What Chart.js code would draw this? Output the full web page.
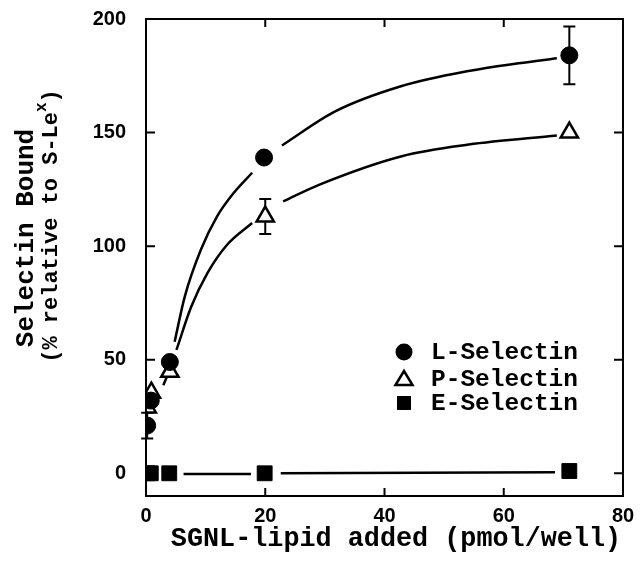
<!DOCTYPE html>
<html>
<head>
<meta charset="utf-8">
<script src="https://cdn.jsdelivr.net/npm/chart.js@4/dist/chart.umd.min.js"></script>
<style>
  html, body { margin: 0; padding: 0; background: #fff; }
  canvas { display: block; }
</style>
</head>
<body>
<canvas id="c" width="643" height="561"></canvas>
<script>
// ---- data ----
const xTicks = [0, 20, 40, 60, 80];
const yTicks = [0, 50, 100, 150, 200];

const seriesNames = ["L-Selectin", "P-Selectin", "E-Selectin"];

const lSelX = [0.2, 0.8, 4.0, 19.8, 71.0];
const lSelY = [21, 32, 49, 139, 184];
const lSelErr = [5.7, 0, 0, 0, 12.7];

const pSelX = [0.2, 0.9, 4.0, 20.0, 71.0];
const pSelY = [29, 35.5, 44.7, 113, 150];
const pSelErr = [0, 0, 0, 7.7, 0];

const eSelX = [0.2, 0.8, 3.9, 19.9, 71.0];
const eSelY = [0, 0, 0, 0, 1];

// fitted curves (null = gap in the drawn line)
const lFitX = [4.8, 6.5, 9.2, 11.9, 14.7, 17.8, 20, 22.8, 31.8, 42.9, 54.1, 62.5, 68.9];
const lFitY = [57.9, 77.8, 98.4, 113, 123.4, 132.3, null, 144.3, 159.4, 170.5, 177.1, 180.5, 182.7];

const pFitX = [2.9, 3.5, 4.2, 5.1, 7.6, 10.3, 13.6, 17.8, 20, 23, 29.1, 42.9, 54.1, 68.9];
const pFitY = [38.8, 42.5, null, 54.3, 73.4, 88.1, 100.6, 110.2, null, 119.7, 127.1, 139.6, 144.7, 148.7];

const eFitX = [6.3, 17.6, 20, 22.6, 68.6];
const eFitY = [-0.3, -0.3, null, 0, 0.5];

const xTitle = "SGNL-lipid added (pmol/well)";
const yTitle1 = "Selectin Bound";
const yTitle2a = "(% relative to S-Le";
const yTitle2sup = "x";
const yTitle2b = ")";

// ---- helpers ----
const pts = (xs, ys) => xs.map((x, i) => ({ x: x, y: ys[i] }));

const INK = '#000';
const MONO = '"Liberation Mono", "Courier New", monospace';
const SANS = '"Liberation Sans", Arial, sans-serif';

const errorBars = {
  id: 'errorBars',
  beforeDatasetsDraw(chart) {
    const ctx = chart.ctx, xs = chart.scales.x, ys = chart.scales.y;
    const sets = [[lSelX, lSelY, lSelErr], [pSelX, pSelY, pSelErr]];
    ctx.save();
    ctx.strokeStyle = INK; ctx.lineWidth = 2;
    sets.forEach(([X, Y, E]) => {
      X.forEach((x, i) => {
        if (!E[i]) return;
        const px = xs.getPixelForValue(x);
        const top = ys.getPixelForValue(Y[i] + E[i]);
        const bot = ys.getPixelForValue(Y[i] - E[i]);
        ctx.beginPath();
        ctx.moveTo(px, top); ctx.lineTo(px, bot);
        ctx.moveTo(px - 6, top); ctx.lineTo(px + 6, top);
        ctx.moveTo(px - 6, bot); ctx.lineTo(px + 6, bot);
        ctx.stroke();
      });
    });
    ctx.restore();
  }
};

const frameAndDecor = {
  id: 'frameAndDecor',
  afterDraw(chart) {
    const ctx = chart.ctx, a = chart.chartArea, xs = chart.scales.x, ys = chart.scales.y;
    ctx.save();
    ctx.strokeStyle = INK; ctx.fillStyle = INK;
    // frame
    ctx.lineWidth = 2;
    ctx.strokeRect(a.left, a.top, a.right - a.left, a.bottom - a.top);
    // inward ticks
    ctx.beginPath();
    xTicks.forEach(v => {
      const p = xs.getPixelForValue(v);
      ctx.moveTo(p, a.bottom); ctx.lineTo(p, a.bottom - 8);
      ctx.moveTo(p, a.top); ctx.lineTo(p, a.top + 8);
    });
    yTicks.forEach(v => {
      const p = ys.getPixelForValue(v);
      ctx.moveTo(a.left, p); ctx.lineTo(a.left + 9, p);
      ctx.moveTo(a.right, p); ctx.lineTo(a.right - 9, p);
    });
    ctx.stroke();

    // x title
    ctx.font = 'bold 26.8px ' + MONO;
    ctx.textAlign = 'center'; ctx.textBaseline = 'alphabetic';
    ctx.fillText(xTitle, 396, 546);

    // y title line 1
    ctx.save();
    ctx.translate(33, 238);
    ctx.rotate(-Math.PI / 2);
    ctx.font = 'bold 26px ' + MONO;
    ctx.textAlign = 'center';
    ctx.fillText(yTitle1, 0, 0);
    ctx.restore();

    // y title line 2 with superscript
    ctx.save();
    ctx.translate(57, 226);
    ctx.rotate(-Math.PI / 2);
    const f2 = 'bold 22px ' + MONO, fs = 'bold 16px ' + MONO;
    ctx.font = f2; const wA = ctx.measureText(yTitle2a).width; const wB = ctx.measureText(yTitle2b).width;
    ctx.font = fs; const wS = ctx.measureText(yTitle2sup).width;
    let xx = -(wA + wS + wB) / 2;
    ctx.textAlign = 'left';
    ctx.font = f2; ctx.fillText(yTitle2a, xx, 0); xx += wA;
    ctx.font = fs; ctx.fillText(yTitle2sup, xx, -11); xx += wS;
    ctx.font = f2; ctx.fillText(yTitle2b, xx, 0);
    ctx.restore();

    // legend
    const lx = 404, rows = [352, 379, 403], tx = 431;
    ctx.beginPath(); ctx.arc(lx, rows[0], 8.5, 0, Math.PI * 2); ctx.fill();
    ctx.lineWidth = 2.5;
    ctx.beginPath();
    ctx.moveTo(lx, rows[1] - 8); ctx.lineTo(lx + 8.5, rows[1] + 6); ctx.lineTo(lx - 8.5, rows[1] + 6); ctx.closePath();
    ctx.stroke();
    ctx.fillRect(lx - 7, rows[2] - 7, 14, 14);
    ctx.font = 'bold 24.5px ' + MONO;
    ctx.textAlign = 'left'; ctx.textBaseline = 'middle';
    seriesNames.forEach((n, i) => ctx.fillText(n, tx, rows[i] + 1));
    ctx.restore();
  }
};

const fitStyle = { showLine: true, pointRadius: 0, borderColor: INK, borderWidth: 2.5,
  cubicInterpolationMode: 'monotone', spanGaps: false, fill: false };

new Chart(document.getElementById('c'), {
  type: 'scatter',
  data: {
    datasets: [
      { label: seriesNames[0], data: pts(lSelX, lSelY), pointStyle: 'circle', pointRadius: 8.5,
        backgroundColor: INK, borderColor: INK, borderWidth: 1, showLine: false },
      { label: seriesNames[1], data: pts(pSelX, pSelY), pointStyle: 'triangle', pointRadius: 10,
        backgroundColor: '#fff', borderColor: INK, borderWidth: 2.5, showLine: false },
      { label: seriesNames[2], data: pts(eSelX, eSelY), pointStyle: 'rect', pointRadius: 10.5,
        backgroundColor: INK, borderColor: INK, borderWidth: 1, showLine: false },
      Object.assign({ label: 'L fit', data: pts(lFitX, lFitY) }, fitStyle),
      Object.assign({ label: 'P fit', data: pts(pFitX, pFitY) }, fitStyle),
      Object.assign({ label: 'E fit', data: pts(eFitX, eFitY) }, fitStyle)
    ]
  },
  options: {
    responsive: false,
    animation: false,
    devicePixelRatio: 1,
    layout: { padding: { top: 19, right: 20, left: 0, bottom: 0 } },
    plugins: { legend: { display: false }, tooltip: { enabled: false } },
    scales: {
      x: {
        type: 'linear', min: 0, max: 80,
        afterBuildTicks: s => { s.ticks = xTicks.map(v => ({ value: v })); },
        afterFit: s => { s.height = 65; s.paddingLeft = 0; s.paddingRight = 0; },
        grid: { display: false, drawTicks: false },
        border: { display: false },
        ticks: { color: INK, font: { family: SANS, size: 20, weight: 'bold' }, padding: 8, maxRotation: 0 }
      },
      y: {
        type: 'linear', min: -10, max: 200,
        afterBuildTicks: s => { s.ticks = yTicks.map(v => ({ value: v })); },
        afterFit: s => { s.width = 146; s.paddingTop = 0; s.paddingBottom = 0; },
        grid: { display: false, drawTicks: false },
        border: { display: false },
        ticks: { color: INK, font: { family: SANS, size: 20, weight: 'bold' }, padding: 20 }
      }
    }
  },
  plugins: [errorBars, frameAndDecor]
});
</script>
</body>
</html>
